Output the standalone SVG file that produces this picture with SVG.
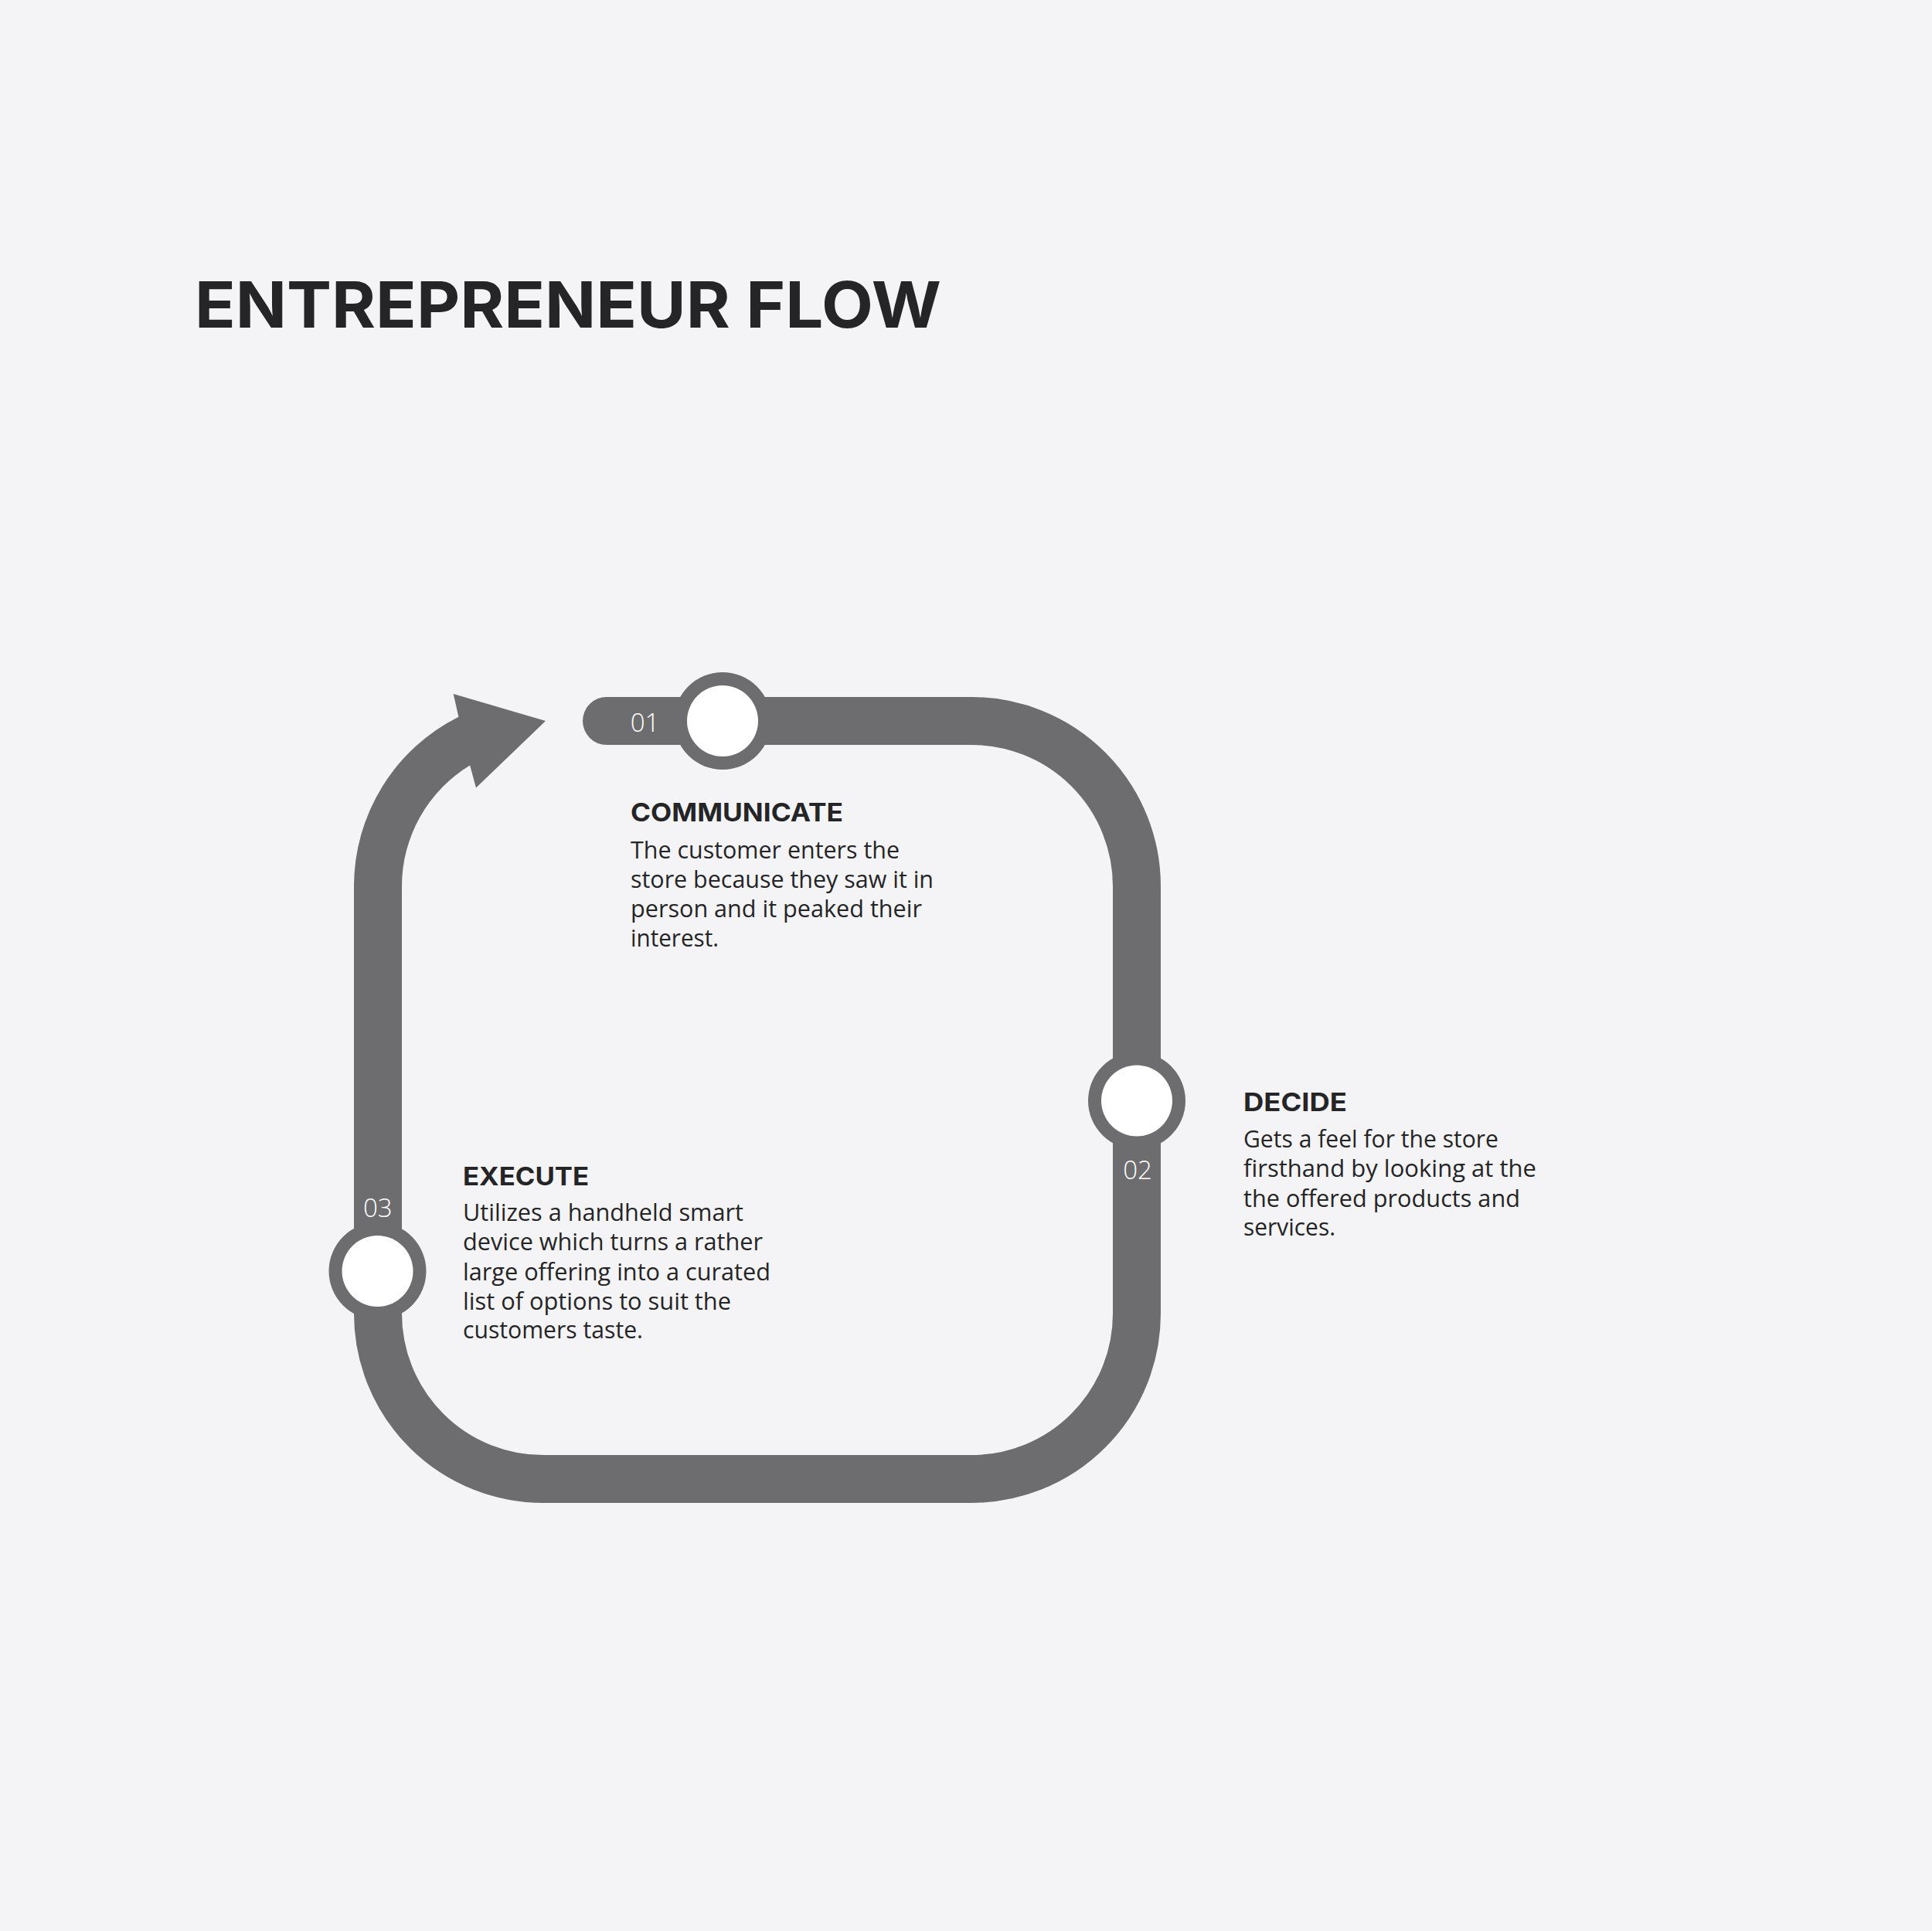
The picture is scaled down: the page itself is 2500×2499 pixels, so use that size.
<svg xmlns="http://www.w3.org/2000/svg" width="2500" height="2499" viewBox="0 0 2500 2499">
  <style>
    .track { fill: none; stroke: #6d6d6f; stroke-width: 62; }
    .fillg { fill: #6d6d6f; }
    .ring { fill: #6d6d6f; }
    .hole { fill: #ffffff; }
    .num { font-family: "Open Sans", "Liberation Sans", sans-serif; font-weight: 300; font-size: 33px; fill: #ffffff; text-anchor: middle; }
    .title { font-family: "Inter", "Liberation Sans", sans-serif; font-weight: 700; font-size: 83px; fill: #252427; }
    .head { font-family: "Inter", "Liberation Sans", sans-serif; font-weight: 700; font-size: 33px; fill: #252427; }
    .body { font-family: "Open Sans", "Liberation Sans", sans-serif; font-weight: 400; font-size: 31px; fill: #252427; }
  </style>
  <rect x="0" y="0" width="2500" height="2499" fill="#f4f4f6"/>

  <text id="title" class="title" x="252" y="424" textLength="966" lengthAdjust="spacingAndGlyphs">ENTREPRENEUR FLOW</text>

  <g id="connectors">
    <path class="track" stroke-linecap="round" d="M785,933 H1257 A214,214 0 0 1 1471,1147 V1700 A214,214 0 0 1 1257,1914 H703 A214,214 0 0 1 489,1700 V1147"/>
    <path class="fillg" d="M458,1147 A245,245 0 0 1 593.4,927.8 L586.7,898 L706,933 L616,1019.5 L608.1,990.5 A183,183 0 0 0 520,1147 Z"/>
  </g>

  <g id="node-01">
    <circle class="ring" cx="935" cy="933" r="63"/>
    <circle class="hole" cx="935" cy="933" r="46"/>
    <text class="num" x="834.5" y="947">01</text>
    <text class="head" x="816" y="1063" textLength="275" lengthAdjust="spacingAndGlyphs">COMMUNICATE</text>
    <text class="body" x="816" y="1111" textLength="348" lengthAdjust="spacingAndGlyphs">The customer enters the</text>
    <text class="body" x="816" y="1149" textLength="392" lengthAdjust="spacingAndGlyphs">store because they saw it in</text>
    <text class="body" x="816" y="1187" textLength="377" lengthAdjust="spacingAndGlyphs">person and it peaked their</text>
    <text class="body" x="816" y="1225" textLength="114" lengthAdjust="spacingAndGlyphs">interest.</text>
  </g>

  <g id="node-02">
    <circle class="ring" cx="1471" cy="1424.5" r="63"/>
    <circle class="hole" cx="1471" cy="1424.5" r="46"/>
    <text class="num" x="1472" y="1526">02</text>
    <text class="head" x="1609" y="1438" textLength="134" lengthAdjust="spacingAndGlyphs">DECIDE</text>
    <text class="body" x="1609" y="1485" textLength="330" lengthAdjust="spacingAndGlyphs">Gets a feel for the store</text>
    <text class="body" x="1609" y="1523" textLength="379" lengthAdjust="spacingAndGlyphs">firsthand by looking at the</text>
    <text class="body" x="1609" y="1561.5" textLength="358" lengthAdjust="spacingAndGlyphs">the offered products and</text>
    <text class="body" x="1609" y="1599" textLength="119" lengthAdjust="spacingAndGlyphs">services.</text>
  </g>

  <g id="node-03">
    <circle class="ring" cx="488.5" cy="1645" r="63"/>
    <circle class="hole" cx="488.5" cy="1645" r="46"/>
    <text class="num" x="488.8" y="1574.5">03</text>
    <text class="head" x="599" y="1533.5" textLength="163" lengthAdjust="spacingAndGlyphs">EXECUTE</text>
    <text class="body" x="599" y="1579.5" textLength="363" lengthAdjust="spacingAndGlyphs">Utilizes a handheld smart</text>
    <text class="body" x="599" y="1618" textLength="388" lengthAdjust="spacingAndGlyphs">device which turns a rather</text>
    <text class="body" x="599" y="1656.5" textLength="398" lengthAdjust="spacingAndGlyphs">large offering into a curated</text>
    <text class="body" x="599" y="1694.5" textLength="347" lengthAdjust="spacingAndGlyphs">list of options to suit the</text>
    <text class="body" x="599" y="1732" textLength="233" lengthAdjust="spacingAndGlyphs">customers taste.</text>
  </g>
</svg>
